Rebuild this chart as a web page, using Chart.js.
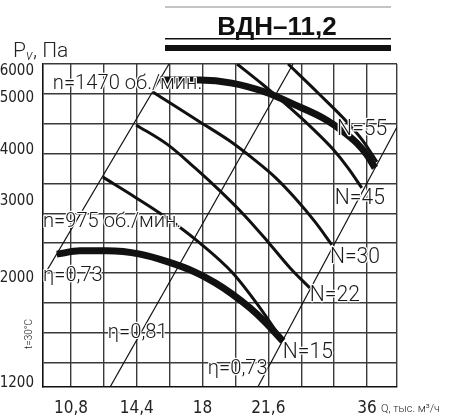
<!DOCTYPE html>
<html>
<head>
<meta charset="utf-8">
<script src="https://cdn.jsdelivr.net/npm/chart.js@4.4.1/dist/chart.umd.min.js"></script>
<style>
  html, body { margin: 0; padding: 0; background: #fff; }
  #wrap { width: 460px; height: 420px; }
</style>
</head>
<body>
<div id="wrap"><canvas id="chart" width="460" height="420"></canvas></div>
<script>
// the diagram is schematic: x and y are in grid cells, ticks carry the printed values
const xTickPos = [1, 3, 5, 7, 10];
const xTickLabels = ["10,8", "14,4", "18", "21,6", "36"];
const yTickPos = [10.77, 9.87, 8.1, 6.42, 3.83, 0.3];
const yTickLabels = ["6000", "5000", "4000", "3000", "2000", "1200"];
const xGrid = [1, 2, 3, 4, 5, 6, 7, 8, 9, 10, 10.91];
const yGrid = [1, 2, 3, 4, 5, 6, 7, 8, 9, 10, 11];

// pressure curves
const n1470 = [[3.71, 10.46], [4.92, 10.46], [5.89, 10.36], [6.90, 10.06], [7.81, 9.63], [8.66, 9.19], [9.33, 8.69], [9.69, 8.35], [10.0, 7.95], [10.24, 7.52]];
const n975 = [[0.57, 4.63], [1.27, 4.74], [2.09, 4.74], [3.10, 4.63], [3.95, 4.37], [4.77, 4.03], [5.38, 3.67], [5.89, 3.30], [6.44, 2.83], [6.90, 2.36], [7.44, 1.72]];

// power lines
const pw15 = [[1.97, 7.21], [2.95, 6.54], [3.92, 5.84], [4.92, 5.00], [5.89, 4.03], [6.68, 2.93], [7.44, 1.72]];
const pw22 = [[2.98, 8.96], [3.95, 8.29], [4.77, 7.52], [5.53, 6.75], [6.29, 5.91], [6.99, 5.04], [7.66, 4.17], [8.26, 3.50]];
const pw30 = [[3.49, 10.06], [4.16, 9.59], [4.92, 9.06], [5.83, 8.42], [6.59, 7.78], [7.20, 7.21], [7.81, 6.51], [8.42, 5.71], [8.93, 4.94]];
const pw45 = [[6.05, 11], [6.81, 10.33], [7.66, 9.53], [8.36, 8.82], [8.96, 8.15], [9.42, 7.52], [9.84, 6.85]];
const pw55 = [[7.60, 11], [8.51, 10.03], [9.39, 9.06], [9.88, 8.42], [10.30, 7.72]];

// efficiency rays
const eta073a = [[0.15, 3.86], [3.98, 11]];
const eta081 = [[2.19, 0.18], [7.75, 11]];
const eta073b = [[6.68, 0.18], [10.91, 8.89]];

const FONT = "'Liberation Sans Narrow', 'DejaVu Sans Condensed', Roboto, sans-serif";
const NOTE_FONT = "Roboto, 'Open Sans', sans-serif";

const notes = [
    { text: "n=1470 об./мин.", x: 0.45, y: 10.33, size: 21 },
    { text: "n=975 об./мин.", x: 0.15, y: 5.71, size: 21 },
    { text: "η=0,73", x: 0.15, y: 3.90, size: 21 },
    { text: "η=0,81", x: 2.12, y: 1.99, size: 21 },
    { text: "η=0,73", x: 5.16, y: 0.78, size: 21 },
    { text: "N=15", x: 7.44, y: 1.35, size: 22 },
    { text: "N=22", x: 8.26, y: 3.23, size: 22 },
    { text: "N=30", x: 8.87, y: 4.53, size: 22 },
    { text: "N=45", x: 9.02, y: 6.48, size: 22 },
    { text: "N=55", x: 9.09, y: 8.82, size: 22 }
];

function pts(arr) {
    return arr.map(p => ({ x: p[0], y: p[1] }));
}

function line(arr, width, tension) {
    return {
        data: pts(arr),
        borderColor: "#111",
        borderWidth: width,
        pointRadius: 0,
        tension: tension,
        cubicInterpolationMode: tension ? "monotone" : "default",
        fill: false,
        borderCapStyle: "butt"
    };
}

const decor = {
    id: "decor",
    beforeDraw(chart) {
        const ctx = chart.ctx;
        ctx.save();
        // header rules
        ctx.fillStyle = "#c4c4c4";
        ctx.fillRect(165, 6, 226, 2);
        ctx.fillStyle = "#111";
        ctx.fillRect(165, 38, 226, 1.5);
        ctx.fillRect(165, 45, 226, 6);
        ctx.font = "bold 26px 'Liberation Sans', Arial, sans-serif";
        ctx.textAlign = "center";
        ctx.textBaseline = "alphabetic";
        ctx.fillText("ВДН–11,2", 277, 35);

        // y title
        ctx.fillStyle = "#222";
        ctx.textAlign = "left";
        ctx.font = "300 21px " + NOTE_FONT;
        ctx.fillText("P", 13, 57);
        ctx.font = "italic 300 14px " + NOTE_FONT;
        ctx.fillText("v", 26, 60);
        ctx.font = "300 21px " + NOTE_FONT;
        ctx.fillText(", Па", 33, 57);

        // t=30°C
        ctx.save();
        ctx.translate(32, 334);
        ctx.rotate(-Math.PI / 2);
        ctx.scale(0.9, 1);
        ctx.font = "300 11px " + NOTE_FONT;
        ctx.textAlign = "center";
        ctx.fillText("t=30°C", 0, 0);
        ctx.restore();

        // x title
        ctx.font = "300 11px " + NOTE_FONT;
        ctx.fillText("Q, тыс. м³/ч", 381, 412);
        ctx.restore();
    },
    afterDatasetsDraw(chart) {
        const ctx = chart.ctx;
        const sx = chart.scales.x, sy = chart.scales.y;
        ctx.save();
        ctx.textAlign = "left";
        ctx.textBaseline = "middle";
        ctx.lineJoin = "round";
        notes.forEach(n => {
            const px = sx.getPixelForValue(n.x);
            const py = sy.getPixelForValue(n.y);
            ctx.save();
            ctx.translate(px, py);
            ctx.scale(0.96, 1);
            ctx.font = "300 " + n.size + "px " + NOTE_FONT;
            ctx.strokeStyle = "#fff";
            ctx.lineWidth = 2.5;
            ctx.strokeText(n.text, 0, 0);
            ctx.fillStyle = "#1a1a1a";
            ctx.fillText(n.text, 0, 0);
            ctx.restore();
        });
        ctx.restore();
    }
};

new Chart(document.getElementById("chart"), {
    type: "line",
    data: {
        datasets: [
            line(eta073a, 1.2, 0),
            line(eta081, 1.2, 0),
            line(eta073b, 1.2, 0),
            line(pw15, 3, 0.4),
            line(pw22, 3, 0.4),
            line(pw30, 3, 0.4),
            line(pw45, 3, 0.4),
            line(pw55, 3, 0.4),
            line(n975, 7, 0.4),
            line(n1470, 7, 0.4)
        ]
    },
    options: {
        responsive: false,
        animation: false,
        events: [],
        layout: { padding: { left: 0, top: 64, right: 63, bottom: 0 } },
        plugins: { legend: { display: false }, tooltip: { enabled: false } },
        scales: {
            x: {
                type: "linear",
                min: 0.15,
                max: 10.91,
                afterBuildTicks: axis => { axis.ticks = xGrid.map(v => ({ value: v })); },
                afterFit: axis => { axis.height = 33; },
                grid: { color: "#3a3a3a", lineWidth: 1.4, drawTicks: false },
                border: { color: "#111", width: 1.6 },
                ticks: {
                    autoSkip: false,
                    maxRotation: 0,
                    padding: 11,
                    color: "#222",
                    font: { family: FONT, size: 17 },
                    callback: v => {
                        const i = xTickPos.indexOf(v);
                        return i < 0 ? "" : xTickLabels[i];
                    }
                }
            },
            y: {
                type: "linear",
                min: 0.18,
                max: 11,
                afterBuildTicks: axis => {
                    axis.ticks = yGrid.concat(yTickPos).sort((a, b) => a - b).map(v => ({ value: v }));
                },
                afterFit: axis => { axis.width = 43; },
                grid: {
                    drawTicks: false,
                    lineWidth: 1.4,
                    color: c => (yGrid.indexOf(c.tick.value) < 0 ? "rgba(0,0,0,0)" : "#3a3a3a")
                },
                border: { color: "#111", width: 1.6 },
                ticks: {
                    autoSkip: false,
                    padding: 9,
                    color: "#222",
                    font: { family: FONT, size: 15 },
                    callback: v => {
                        const i = yTickPos.indexOf(v);
                        return i < 0 ? "" : yTickLabels[i];
                    }
                }
            }
        }
    },
    plugins: [decor]
});
</script>
</body>
</html>
